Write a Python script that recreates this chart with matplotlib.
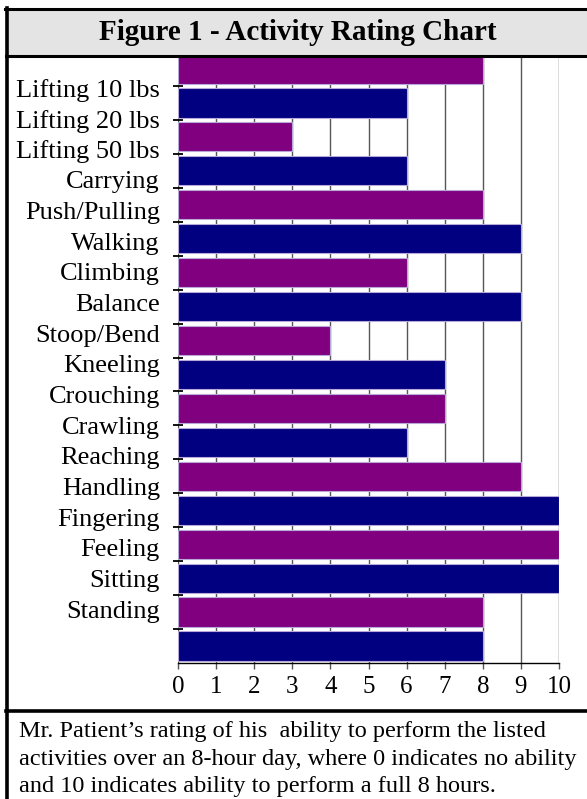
import matplotlib
matplotlib.use("Agg")
import matplotlib.pyplot as plt
import numpy as np
from matplotlib.patches import Rectangle
from matplotlib.lines import Line2D

# ---------------- data ----------------
activities = ["Lifting 10 lbs", "Lifting 20 lbs", "Lifting 50 lbs", "Carrying",
              "Push/Pulling", "Walking", "Climbing", "Balance", "Stoop/Bend",
              "Kneeling", "Crouching", "Crawling", "Reaching", "Handling",
              "Fingering", "Feeling", "Sitting", "Standing"]
ratings = [8, 6, 3, 6, 8, 9, 6, 9, 4, 7, 7, 6, 9, 10, 10, 10, 8, 8]
x_ticks = [0, 1, 2, 3, 4, 5, 6, 7, 8, 9, 10]
title = "Figure 1 - Activity Rating Chart"
caption_lines = ["Mr. Patient\u2019s rating of his  ability to perform the listed",
                 "activities over an 8-hour day, where 0 indicates no ability",
                 "and 10 indicates ability to perform a full 8 hours."]

PURPLE = "#800080"
NAVY = "#000080"
SERIF = ["Liberation Serif", "DejaVu Serif"]

W, H = 587, 799
def fx(px): return px / W
def fy(py): return 1 - py / H

fig = plt.figure(figsize=(W / 100, H / 100), dpi=100)
fig.patch.set_facecolor("white")

ax = fig.add_axes([fx(178), fy(663), fx(559) - fx(178), fy(52) - fy(663)])
pos = np.arange(len(ratings))
colors = [PURPLE if i % 2 == 0 else NAVY for i in range(len(ratings))]
ax.barh(pos, ratings, height=0.86, color=colors, edgecolor="#b8a8d8",
        linewidth=0.8, zorder=3)
ax.set_xlim(0, 10)
ax.set_ylim(len(ratings) - 0.5, -0.5)
ax.set_axisbelow(True)
ax.xaxis.grid(True, color="#555555", linewidth=1)
ax.set_xticks(x_ticks)
ax.set_xticklabels([str(t) for t in x_ticks], fontfamily=SERIF, fontsize=18)
ax.tick_params(axis="x", direction="out", length=4.5, width=1, color="#555555", pad=5)
ax.set_yticks(pos[:-1] + 0.5)
ax.set_yticklabels([])
ax.tick_params(axis="y", direction="inout", length=7.5, width=1.3, color="black")
for s in ("left", "top", "right"):
    ax.spines[s].set_visible(False)
ax.spines["bottom"].set_color("black")
ax.spines["bottom"].set_linewidth(1)

# category labels (drawn with their own, tighter spacing as in the original)
ax2 = ax.twinx()
ax2.set_ylim(18.76, -1.17)
ax2.yaxis.set_ticks_position("left")
ax2.set_yticks(pos)
ax2.set_yticklabels(activities, fontfamily=SERIF, fontsize=19)
ax2.tick_params(axis="y", length=0, pad=13)
ax2.patch.set_visible(False)
for s in ax2.spines.values():
    s.set_visible(False)

# frame / title band
fig.add_artist(Rectangle((fx(8), fy(55)), fx(587) - fx(8), fy(10) - fy(55),
                         transform=fig.transFigure, facecolor="#e4e4e4",
                         edgecolor="none", zorder=5))
lw = 2.2
fig.add_artist(Line2D([fx(5), fx(587)], [fy(9), fy(9)], transform=fig.transFigure,
                      color="black", lw=lw, zorder=6))
fig.add_artist(Line2D([fx(6.5), fx(6.5)], [fy(8), fy(799)], transform=fig.transFigure,
                      color="black", lw=2.6, zorder=6))
fig.add_artist(Line2D([fx(6), fx(587)], [fy(56), fy(56)], transform=fig.transFigure,
                      color="black", lw=lw, zorder=6))
fig.add_artist(Line2D([fx(6), fx(587)], [fy(710.5), fy(710.5)], transform=fig.transFigure,
                      color="black", lw=2.6, zorder=6))

fig.text(fx(298), fy(33), title, ha="center", va="center", fontsize=21,
         fontweight="bold", fontfamily=SERIF, zorder=7)

for i, line in enumerate(caption_lines):
    fig.text(fx(19), fy(737 + 27.5 * i), line, ha="left", va="baseline",
             fontsize=17.5, fontfamily=SERIF)

fig.savefig("out.png", dpi=100)
